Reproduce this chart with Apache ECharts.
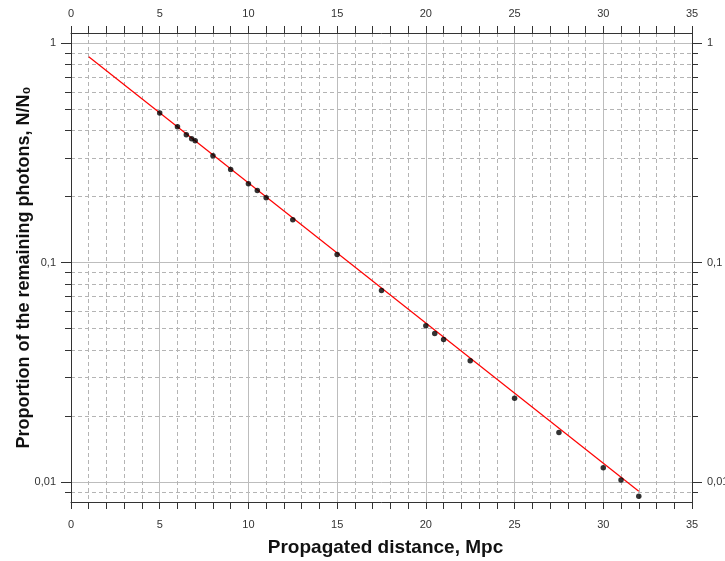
<!DOCTYPE html>
<html>
<head>
<meta charset="utf-8">
<script src="https://cdn.jsdelivr.net/npm/echarts@6/dist/echarts.min.js"></script>
<style>
  html, body { margin: 0; padding: 0; background: #fff; }
  #chart { width: 725px; height: 561px; }
</style>
</head>
<body>
<div id="chart"></div>
<script>
// Measured photon survival fraction versus propagated distance
const distance = [5, 6, 6.5, 6.8, 7, 8, 9, 10, 10.5, 11, 12.5, 15, 17.5, 20, 20.5, 21, 22.5, 25, 27.5, 30, 31, 32];
const remaining = [0.481, 0.416, 0.383, 0.367, 0.359, 0.307, 0.266, 0.229, 0.213, 0.1975, 0.157, 0.109, 0.0747, 0.0515, 0.0475, 0.0446, 0.0357, 0.0241, 0.0168, 0.0116, 0.0102, 0.0086];

// Exponential fit, straight on the log axis: end points
const fitDistance = [1, 32];
const fitRemaining = [0.869, 0.00907];

// Tick positions
const xMajor = [0, 5, 10, 15, 20, 25, 30, 35];
const yMajor = [0.01, 0.1, 1];
const yMinor = [0.009, 0.02, 0.03, 0.04, 0.05, 0.06, 0.07, 0.08, 0.09,
                0.2, 0.3, 0.4, 0.5, 0.6, 0.7, 0.8, 0.9];
const yLabels = ['0,01', '0,1', '1'];

const FONT = 'Liberation Sans, Arial, sans-serif';
const AXIS_COLOR = '#333';
const DASH = { color: '#b4b4b4', width: 1, type: [4, 3] };
const SOLID = { color: '#bdbdbd', width: 1, type: 'solid' };

const yRange = { min: 0.0081, max: 1.114 };

function yLabelText(v) {
  let best = 0, d = Infinity;
  yMajor.forEach((m, i) => {
    const e = Math.abs(Math.log10(v) - Math.log10(m));
    if (e < d) { d = e; best = i; }
  });
  return yLabels[best];
}

function xAxisDef(position, withGrid) {
  return {
    type: 'value', position: position, min: 0, max: 35, interval: 1,
    axisLine: { show: true, onZero: false, lineStyle: { color: AXIS_COLOR, width: 1 } },
    axisTick: { show: true, inside: false, length: 7, lineStyle: { color: AXIS_COLOR } },
    axisLabel: {
      show: true, margin: position === 'top' ? 14 : 17, color: '#333', fontSize: 11, fontFamily: FONT,
      formatter: v => (xMajor.indexOf(v) >= 0 ? String(v) : '')
    },
    splitLine: { show: withGrid, lineStyle: DASH }
  };
}

function yAxisDef(position, values, tickLen, labels, grid) {
  return {
    type: 'log', logBase: 10, position: position, min: yRange.min, max: yRange.max,
    axisLine: { show: true, onZero: false, lineStyle: { color: AXIS_COLOR, width: 1 } },
    axisTick: { show: true, inside: false, length: tickLen, customValues: values, lineStyle: { color: AXIS_COLOR } },
    axisLabel: {
      show: labels, customValues: values, margin: 15, color: '#333', fontSize: 11, fontFamily: FONT,
      formatter: yLabelText
    },
    splitLine: { show: !!grid, lineStyle: grid || DASH }
  };
}

const chart = echarts.init(document.getElementById('chart'), null, { renderer: 'canvas' });

chart.setOption({
  animation: false,
  backgroundColor: '#fff',
  grid: { left: 71, right: 33, top: 33, bottom: 59, containLabel: false, outerBoundsMode: 'none' },
  xAxis: [
    Object.assign(xAxisDef('bottom', true), {
      name: 'Propagated distance, Mpc', nameLocation: 'middle', nameGap: 36,
      nameTextStyle: { fontSize: 19, fontWeight: 'bold', color: '#111', fontFamily: FONT, padding: [0, 0, 0, 8] }
    }),
    xAxisDef('top', false),
    {
      type: 'value', position: 'bottom', min: 0, max: 35, interval: 5,
      axisLine: { show: false }, axisTick: { show: false }, axisLabel: { show: false },
      splitLine: { show: true, lineStyle: SOLID }
    }
  ],
  yAxis: [
    Object.assign(yAxisDef('left', yMinor, 6, false, DASH), {
      name: 'Proportion of the remaining photons, N/N\u2080', nameLocation: 'middle', nameGap: 38,
      nameTextStyle: { fontSize: 18, fontWeight: 'bold', color: '#111', fontFamily: FONT }
    }),
    yAxisDef('left', yMajor, 10, true, SOLID),
    yAxisDef('right', yMinor, 6, false, null),
    yAxisDef('right', yMajor, 10, true, null)
  ],
  series: [
    {
      type: 'line', xAxisIndex: 0, yAxisIndex: 0,
      data: fitDistance.map((x, i) => [x, fitRemaining[i]]),
      showSymbol: false, symbol: 'none',
      lineStyle: { color: '#ff0000', width: 1.2 }, z: 3, silent: true
    },
    {
      type: 'scatter', xAxisIndex: 0, yAxisIndex: 0,
      data: distance.map((x, i) => [x, remaining[i]]),
      symbol: 'circle', symbolSize: 5.5,
      itemStyle: { color: '#000' }, z: 4, silent: true
    }
  ]
});
</script>
</body>
</html>
